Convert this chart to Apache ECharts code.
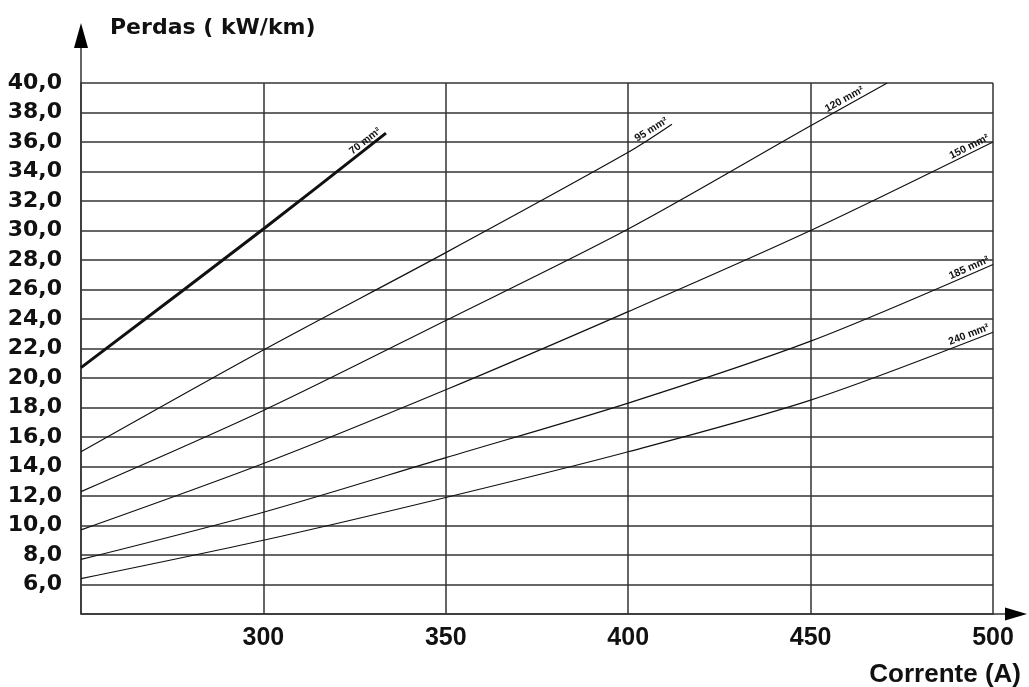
<!DOCTYPE html>
<html>
<head>
<meta charset="utf-8">
<script src="https://cdn.jsdelivr.net/npm/echarts@6/dist/echarts.min.js"></script>
<style>html,body{margin:0;padding:0;background:#fff}#c{width:1029px;height:687px}</style>
</head>
<body>
<div id="c"></div>
<script>
// Data (x = Corrente (A), y = Perdas (kW/km))
const s70  = [[250,20.7],[300,30.1],[333.6,36.6]];
const s95  = [[250,15.0],[300,21.9],[350,28.5],[400,35.3],[412,37.2]];
const s120 = [[250,12.3],[300,17.8],[350,23.9],[400,30.1],[450,37.1],[471,40.0]];
const s150 = [[250,9.7],[300,14.2],[350,19.2],[400,24.5],[450,30.0],[500,36.0]];
const s185 = [[250,7.7],[300,10.9],[350,14.6],[400,18.3],[450,22.5],[500,27.7]];
const s240 = [[250,6.4],[300,9.0],[350,11.9],[400,15.0],[450,18.5],[500,23.1]];
const seriesNames = ['70 mm²','95 mm²','120 mm²','150 mm²','185 mm²','240 mm²'];
const seriesData = [s70, s95, s120, s150, s185, s240];
const labelAngles = [38, 32, 29, 27, 24, 21];
const labelIndex = [2, 4, 5, 5, 5, 5];
const labelBack = [3, 2, 24, 2, 2, 2];
const lineWidths = [3, 1.2, 1.2, 1.2, 1.2, 1.2];
const xMin = 250, xMax = 500, xStep = 50;
const yMin = 4, yMax = 40, yStep = 2;

const chart = echarts.init(document.getElementById('c'));
const gridColor = '#333';

const series = seriesData.map((d, i) => ({
  type: 'line',
  name: seriesNames[i],
  smooth: 0.3,
  symbol: 'circle',
  symbolSize: 0,
  showSymbol: true,
  silent: true,
  animation: false,
  lineStyle: { color: '#111', width: lineWidths[i] },
  itemStyle: { color: '#111' },
  data: d.map((p, j) => j === labelIndex[i] ? {
    value: p,
    label: {
      show: true,
      position: [0, 0],
      align: 'right',
      verticalAlign: 'bottom',
      rotate: labelAngles[i],
      formatter: seriesNames[i],
      fontFamily: 'Liberation Sans, Arial, sans-serif',
      fontWeight: 'bold',
      fontSize: 10.5,
      color: '#111',
      padding: [0, labelBack[i], 1, 0]
    }
  } : { value: p })
}));

chart.setOption({
  animation: false,
  backgroundColor: '#fff',
  grid: { left: 81, right: 36, top: 83, bottom: 73, containLabel: false },
  title: [
    { text: 'Perdas ( kW/km)', left: 105, top: 12,
      textStyle: { fontFamily: 'DejaVu Sans', fontWeight: 'bold', fontSize: 22, color: '#111' } },
    { text: 'Corrente (A)', right: 3, top: 657,
      textStyle: { fontFamily: 'Liberation Sans, Arial', fontWeight: 'bold', fontSize: 26, color: '#111' } }
  ],
  xAxis: {
    type: 'value', min: xMin, max: xMax, interval: xStep,
    axisLine: { show: true, lineStyle: { color: gridColor, width: 1.5 } },
    axisTick: { show: false },
    splitLine: { show: true, lineStyle: { color: gridColor, width: 1.5 } },
    axisLabel: { showMinLabel: false, margin: 12, color: '#111',
      fontFamily: 'Liberation Sans, Arial', fontWeight: 'bold', fontSize: 25 }
  },
  yAxis: {
    type: 'value', min: yMin, max: yMax, interval: yStep,
    axisLine: { show: true, lineStyle: { color: gridColor, width: 1.5 } },
    axisTick: { show: false },
    splitLine: { show: true, lineStyle: { color: gridColor, width: 1.5 } },
    axisLabel: { showMinLabel: false, margin: 19, color: '#111',
      fontFamily: 'DejaVu Sans', fontWeight: 'bold', fontSize: 22,
      formatter: v => v.toFixed(1).replace('.', ',') }
  },
  series: series
});

// Axis arrows, positioned from the axes' own pixel positions
const o = chart.convertToPixel({ gridIndex: 0 }, [xMin, yMin]);
const e = chart.convertToPixel({ gridIndex: 0 }, [xMax, yMax]);
const x0 = o[0], y0 = o[1], x1 = e[0], y1 = e[1];
chart.setOption({
  graphic: [
    { type: 'line', shape: { x1: x0, y1: y1, x2: x0, y2: y1 - 36 }, style: { stroke: gridColor, lineWidth: 1.5 } },
    { type: 'polygon', shape: { points: [[x0, y1 - 60], [x0 - 7, y1 - 35], [x0 + 7, y1 - 35]] }, style: { fill: '#000' } },
    { type: 'line', shape: { x1: x1, y1: y0, x2: x1 + 13, y2: y0 }, style: { stroke: gridColor, lineWidth: 1.5 } },
    { type: 'polygon', shape: { points: [[x1 + 34, y0], [x1 + 12, y0 - 6.5], [x1 + 12, y0 + 6.5]] }, style: { fill: '#000' } }
  ]
});
</script>
</body>
</html>
